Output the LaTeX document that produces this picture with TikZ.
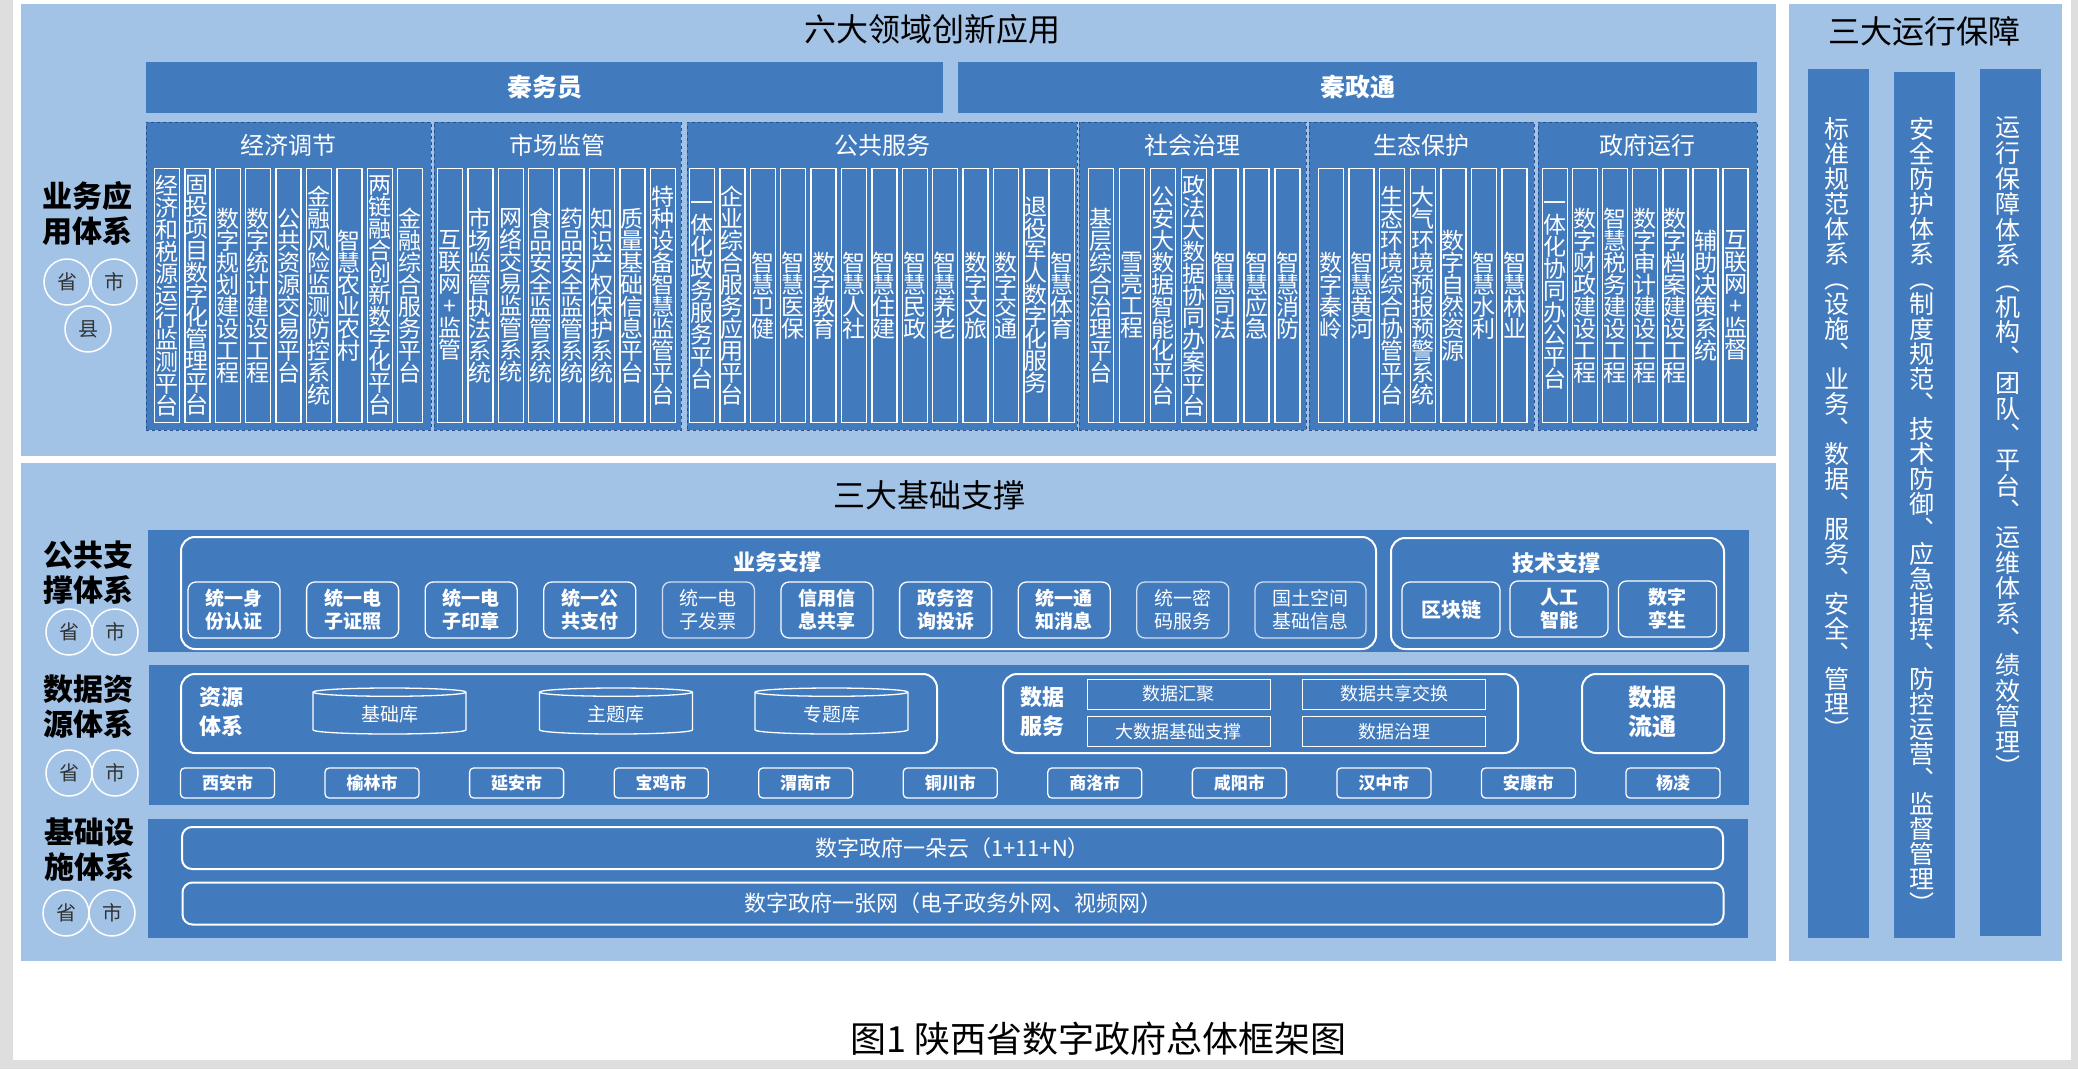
\documentclass[tikz,border=0pt]{standalone}
\usepackage{fontspec}
\setmainfont{Noto Sans CJK SC}
\usetikzlibrary{shapes.geometric, positioning}
\definecolor{panelblue}{RGB}{162, 195, 230}
\definecolor{bandblue}{RGB}{66, 122, 190}
\definecolor{edgeblue}{RGB}{40, 80, 140}
\definecolor{labelgray}{RGB}{50, 50, 50}
\definecolor{pagegray}{RGB}{222, 222, 222}
% stack the characters of a text one below the other
\def\colstackend{}
\def\colstackaux#1#2\colstackend{#1\ifx\relax#2\relax\else\\\colstackaux#2\colstackend\fi}
\newcommand\colstack[1]{\expandafter\colstackaux#1\colstackend}
\tikzstyle{bigtitle} = [text=black, font=\fontsize{32}{32}\selectfont]
\tikzstyle{rowlabel} = [text=black, align=center, font=\bfseries\fontsize{30}{35}\selectfont]
\tikzstyle{tier} = [circle, draw=white, line width=1.5pt, minimum size=46pt, inner sep=0pt,
                    text=labelgray, font=\fontsize{20}{20}\selectfont]
\tikzstyle{appbar} = [rectangle, fill=bandblue, minimum height=51pt, text=white,
                      font=\bfseries\fontsize{25}{25}\selectfont]
\tikzstyle{field} = [rectangle, draw=edgeblue, dashed, line width=0.8pt, fill=bandblue,
                     minimum height=308pt, anchor=north west, inner sep=0pt]
\tikzstyle{fieldtitle} = [text=white, font=\fontsize{24}{24}\selectfont]
\tikzstyle{appcol} = [rectangle, draw=white, line width=1.3pt, fill=bandblue, minimum width=25pt,
                      minimum height=254pt, inner sep=0pt, align=center, text=white,
                      font=\fontsize{23}{22}\selectfont]
\tikzstyle{groupbox} = [rectangle, rounded corners=14pt, draw=white, line width=2pt,
                        anchor=north west, inner sep=0pt]
\tikzstyle{grouptitle} = [text=white, font=\bfseries\fontsize{22}{22}\selectfont]
\tikzstyle{supportbox} = [rectangle, rounded corners=8pt, draw=white, line width=1.3pt,
                          minimum width=92pt, minimum height=56pt, align=center, text=white,
                          font=\bfseries\fontsize{19}{23}\selectfont]
\tikzstyle{lightbox} = [supportbox, draw=white!75!bandblue, font=\fontsize{19}{23}\selectfont]
\tikzstyle{database} = [cylinder, shape border rotate=90, aspect=0.13, draw=white, line width=1.3pt,
                        minimum width=153pt, minimum height=46pt, text=white,
                        font=\fontsize{19}{19}\selectfont]
\tikzstyle{service} = [rectangle, draw=white, line width=0.8pt, minimum width=183pt,
                       minimum height=30pt, text=white, font=\fontsize{18}{18}\selectfont]
\tikzstyle{city} = [rectangle, rounded corners=4pt, draw=white, line width=1.3pt,
                    minimum width=94pt, minimum height=30pt, text=white,
                    font=\bfseries\fontsize{17}{17}\selectfont]
\tikzstyle{infra} = [rectangle, rounded corners=10pt, draw=white, line width=2pt,
                     minimum width=1541pt, minimum height=42pt, text=white,
                     font=\fontsize{22}{22}\selectfont]
\tikzstyle{opsbar} = [rectangle, fill=bandblue, minimum width=61pt, anchor=north west, inner sep=0pt]
\tikzstyle{opstext} = [anchor=north, align=center, inner sep=0pt, text=white,
                       font=\fontsize{25}{25}\selectfont]

\begin{document}
\begin{tikzpicture}[x=1pt, y=-1pt]
\useasboundingbox (0,0) rectangle (2078,1069);

% Page
\fill[pagegray] (0,0) rectangle (2078,1069);
\fill[white] (13,0) rectangle (2071,1060);

% Background boxes
\fill[panelblue] (21,4) rectangle (1776,456);
\fill[panelblue] (21,463) rectangle (1776,961);
\fill[panelblue] (1789,4) rectangle (2062,961);

% Titles
\node[bigtitle] (apptitle) at (932,29) {六大领域创新应用};
\node[bigtitle] (basetitle) at (929,495) {三大基础支撑};
\node[bigtitle] (opstitle) at (1924,31) {三大运行保障};

% Row labels and levels
\node[rowlabel] (applabel) at (87,213.5) {业务应\\用体系};
\node[tier] (app-prov) at (67,282) {省};
\node[tier] (app-city) at (114,282) {市};
\node[tier] (app-county) at (88,329) {县};

\node[rowlabel] (publabel) at (88,573) {公共支\\撑体系};
\node[tier] (pub-prov) at (69,632) {省};
\node[tier] (pub-city) at (115,632) {市};

\node[rowlabel] (datalabel) at (88,706.5) {数据资\\源体系};
\node[tier] (data-prov) at (69,773) {省};
\node[tier] (data-city) at (115,773) {市};

\node[rowlabel] (infralabel) at (89,849.5) {基础设\\施体系};
\node[tier] (infra-prov) at (66,913) {省};
\node[tier] (infra-city) at (112,913) {市};

% Application layer
\node[appbar, minimum width=797pt] (qinwuyuan) at (544.5,87.5) {秦务员};
\node[appbar, minimum width=799pt] (qinzhengtong) at (1357.5,87.5) {秦政通};

\node[field, minimum width=285pt] (econ) at (146,122) {};
\node[field, minimum width=247pt] (market) at (434,122) {};
\node[field, minimum width=390pt] (public) at (687,122) {};
\node[field, minimum width=227pt] (social) at (1079,122) {};
\node[field, minimum width=225pt] (ecology) at (1309,122) {};
\node[field, minimum width=219pt] (govops) at (1538,122) {};

\node[fieldtitle] (econ-title) at (288.5,145) {经济调节};
\node[fieldtitle] (market-title) at (557.5,145) {市场监管};
\node[fieldtitle] (public-title) at (882,145) {公共服务};
\node[fieldtitle] (social-title) at (1192.5,145) {社会治理};
\node[fieldtitle] (ecology-title) at (1421.5,145) {生态保护};
\node[fieldtitle] (govops-title) at (1647.5,145) {政府运行};

\foreach \lbl [count=\i from 0] in {经济和税源运行监测平台,固投项目数字化管理平台,数字规划建设工程,
    数字统计建设工程,公共资源交易平台,金融风险监测防控系统,智慧农业农村,两链融合创新数字化平台,金融综合服务平台}
  \node[appcol] (econ-\i) at ({167+30.4*\i},295.5) {\colstack{\lbl}};

\foreach \lbl [count=\i from 0] in {互联网+监管,市场监管执法系统,网络交易监管系统,食品安全监管系统,
    药品安全监管系统,知识产权保护系统,质量基础信息平台,特种设备智慧监管平台}
  \node[appcol] (market-\i) at ({450+30.4*\i},295.5) {\colstack{\lbl}};

\foreach \lbl [count=\i from 0] in {一体化政务服务平台,企业综合服务应用平台,智慧卫健,智慧医保,数字教育,
    智慧人社,智慧住建,智慧民政,智慧养老,数字文旅,数字交通,退役军人数字化服务}
  \node[appcol] (public-\i) at ({702+30.4*\i},295.5) {\colstack{\lbl}};
\node[appcol] (public-12) at (1062,295.5) {\colstack{智慧体育}};

\foreach \lbl [count=\i from 0] in {基层综合治理平台,雪亮工程,公安大数据智能化平台,政法大数据协同办案平台,
    智慧司法,智慧应急,智慧消防}
  \node[appcol] (social-\i) at ({1101+31.1*\i},295.5) {\colstack{\lbl}};

\foreach \lbl [count=\i from 0] in {数字秦岭,智慧黄河,生态环境综合协管平台,大气环境预报预警系统,
    数字自然资源,智慧水利,智慧林业}
  \node[appcol] (ecology-\i) at ({1331+30.6*\i},295.5) {\colstack{\lbl}};

\foreach \lbl [count=\i from 0] in {一体化协同办公平台,数字财政建设工程,智慧税务建设工程,数字审计建设工程,
    数字档案建设工程,辅助决策系统,互联网+监督}
  \node[appcol] (govops-\i) at ({1555+30.1*\i},295.5) {\colstack{\lbl}};

% Support layer
\fill[bandblue] (148,530) rectangle (1749,652);
\fill[bandblue] (149,665) rectangle (1749,805);
\fill[bandblue] (148,819) rectangle (1748,938);

\node[groupbox, minimum width=1195pt, minimum height=112pt] (bizsupport) at (180,536) {};
\node[grouptitle] (bizsupport-title) at (777,562) {业务支撑};
\foreach \a/\b/\s [count=\i from 0] in {统一身/份认证/supportbox,统一电/子证照/supportbox,
    统一电/子印章/supportbox,统一公/共支付/supportbox,统一电/子发票/lightbox,信用信/息共享/supportbox,
    政务咨/询投诉/supportbox,统一通/知消息/supportbox,统一密/码服务/lightbox}
  \node[\s] (biz-\i) at ({234+118.6*\i},610) {\a\\\b};
\node[lightbox, minimum width=111pt] (biz-9) at (1310.5,610) {国土空间\\基础信息};

\node[groupbox, minimum width=333pt, minimum height=111pt] (techsupport) at (1390,537) {};
\node[grouptitle] (techsupport-title) at (1556,563) {技术支撑};
\node[supportbox, minimum width=98pt, font=\bfseries\fontsize{20}{23}\selectfont] (blockchain) at (1451,610) {区块链};
\node[supportbox, minimum width=98pt] (ai) at (1559,609) {人工\\智能};
\node[supportbox, minimum width=98pt] (twin) at (1667.5,609) {数字\\孪生};

% Data layer
\node[groupbox, minimum width=756pt, minimum height=79pt] (resources) at (180,673) {};
\node[grouptitle, align=center, font=\bfseries\fontsize{22}{29}\selectfont] (resources-title) at (221,712) {资源\\体系};
\node[database] (basedb) at (389.5,714) {基础库};
\node[database] (topicdb) at (616,714) {主题库};
\node[database] (specialdb) at (831.5,714) {专题库};

\node[groupbox, minimum width=515pt, minimum height=79pt] (dataservice) at (1002,673) {};
\node[grouptitle, align=center, font=\bfseries\fontsize{22}{29}\selectfont] (dataservice-title) at (1042,712) {数据\\服务};
\node[service] (gather) at (1178.5,694) {数据汇聚};
\node[service] (exchange) at (1394,694) {数据共享交换};
\node[service] (bigdata) at (1178.5,731.5) {大数据基础支撑};
\node[service] (governance) at (1394,731.5) {数据治理};

\node[groupbox, minimum width=142pt, minimum height=79pt] (dataflow) at (1581,673) {};
\node[grouptitle, align=center, font=\bfseries\fontsize{24}{29}\selectfont] (dataflow-title) at (1652,712) {数据\\流通};

\foreach \c [count=\i from 0] in {西安市,榆林市,延安市,宝鸡市,渭南市,铜川市,商洛市,咸阳市,汉中市,安康市,杨凌}
  \node[city] (city-\i) at ({227.5+144.55*\i},783) {\c};

% Infrastructure layer
\node[infra] (cloud) at (952.5,848) {数字政府一朵云（1+11+N）};
\node[infra] (network) at (953,903.5) {数字政府一张网（电子政务外网、视频网）};

% Operation guarantee
\node[opsbar, minimum height=869pt] (standard) at (1808,69) {};
\node[opsbar, minimum height=866pt] (security) at (1894,72) {};
\node[opsbar, minimum height=867pt] (operation) at (1980,69) {};
\node[opstext] (standard-text) at ([xshift=-2pt,yshift=-48pt]standard.north)
  {\colstack{标准规范体系︵设施︑业务︑数据︑服务︑安全︑管理︶}};
\node[opstext] (security-text) at ([xshift=-3pt,yshift=-45pt]security.north)
  {\colstack{安全防护体系︵制度规范︑技术防御︑应急指挥︑防控运营︑监督管理︶}};
\node[opstext, font=\fontsize{25}{25.6}\selectfont] (operation-text) at ([xshift=-3pt,yshift=-48pt]operation.north)
  {\colstack{运行保障体系︵机构︑团队︑平台︑运维体系︑绩效管理︶}};

% Caption
\node[font=\fontsize{36}{36}\selectfont] (caption) at (1099,1039) {图1~陕西省数字政府总体框架图};

\end{tikzpicture}
\end{document}
